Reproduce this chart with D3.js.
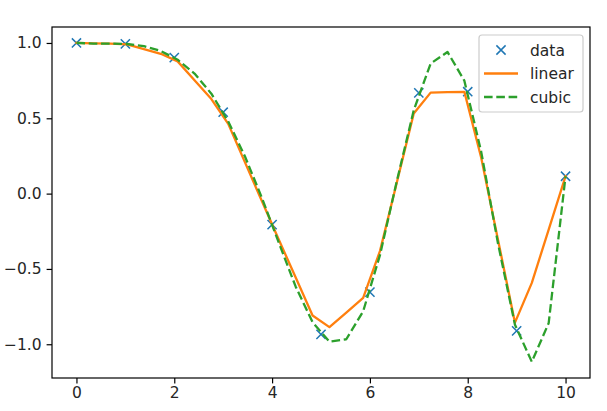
<!DOCTYPE html>
<html>
<head>
<meta charset="utf-8">
<script src="https://cdn.jsdelivr.net/npm/d3@7"></script>
<style>
  html, body { margin: 0; padding: 0; background: #fff; }
  svg { display: block; }
  text { font-family: "DejaVu Sans", sans-serif; fill: #262626; }
</style>
</head>
<body>
<script>
// ---- data ----
const xData = [0, 1, 2, 3, 4, 5, 6, 7, 8, 9, 10];
const yData = [1.0, 0.99383, 0.90285, 0.54030, -0.20551, -0.93455, -0.65364, 0.66841, 0.67641, -0.91113, 0.11528];

const xNew = [0, 0.34483, 0.68966, 1.03448, 1.37931, 1.72414, 2.06897, 2.41379, 2.75862, 3.10345,
  3.44828, 3.79310, 4.13793, 4.48276, 4.82759, 5.17241, 5.51724, 5.86207, 6.20690, 6.55172,
  6.89655, 7.24138, 7.58621, 7.93103, 8.27586, 8.62069, 8.96552, 9.31034, 9.65517, 10];

const yLinear = [1.0, 0.99787, 0.99574, 0.99069, 0.95932, 0.92795, 0.87784, 0.75283, 0.62781, 0.46315,
  0.20596, -0.05120, -0.30606, -0.55746, -0.80885, -0.88611, -0.78925, -0.69238, -0.38011, 0.07577,
  0.53164, 0.67034, 0.67310, 0.67586, 0.23848, -0.30896, -0.85639, -0.59259, -0.23866, 0.11528];

const yCubic = [1.0, 0.99605, 0.99627, 0.99315, 0.97920, 0.94692, 0.88880, 0.79708, 0.66339, 0.47937,
  0.24440, -0.02888, -0.32628, -0.61793, -0.85370, -0.98268, -0.96686, -0.78106, -0.40670, 0.08498,
  0.55358, 0.86305, 0.94039, 0.74980, 0.27725, -0.33395, -0.86991, -1.11649, -0.85949, 0.11528];

const xTicks = [0, 2, 4, 6, 8, 10];
const yTicks = [-1.0, -0.5, 0.0, 0.5, 1.0];
const legendLabels = ["data", "linear", "cubic"];

// ---- layout ----
const W = 607, H = 411;
const mLeft = 52, mRight = 590, mTop = 27, mBottom = 378;
const colors = { data: "#1f77b4", linear: "#ff7f0e", cubic: "#2ca02c" };
const fontSize = 15.5;

const svg = d3.select("body").append("svg").attr("width", W).attr("height", H);

const x = d3.scaleLinear().domain([-0.5, 10.5]).range([mLeft, mRight]);
const y = d3.scaleLinear().domain([-1.224, 1.106]).range([mBottom, mTop]);

svg.append("defs").append("clipPath").attr("id", "clip")
  .append("rect").attr("x", mLeft).attr("y", mTop).attr("width", mRight - mLeft).attr("height", mBottom - mTop);

const g = svg.append("g").attr("clip-path", "url(#clip)");

// data markers (x)
const ms = 4.6;
const xMark = (cx, cy, s) => `M${cx - s},${cy - s}L${cx + s},${cy + s}M${cx - s},${cy + s}L${cx + s},${cy - s}`;
g.append("g").selectAll("path").data(xData.map((d, i) => [d, yData[i]])).join("path")
  .attr("d", d => xMark(x(d[0]), y(d[1]), ms))
  .attr("stroke", colors.data).attr("stroke-width", 1.5).attr("fill", "none");

const line = d3.line().x(d => x(d[0])).y(d => y(d[1]));

g.append("path").datum(xNew.map((d, i) => [d, yLinear[i]]))
  .attr("d", line).attr("fill", "none").attr("stroke", colors.linear)
  .attr("stroke-width", 2.3).attr("stroke-linejoin", "round").attr("stroke-linecap", "square");

g.append("path").datum(xNew.map((d, i) => [d, yCubic[i]]))
  .attr("d", line).attr("fill", "none").attr("stroke", colors.cubic)
  .attr("stroke-width", 2.3).attr("stroke-dasharray", "8.6,3.7").attr("stroke-linejoin", "round");

// axes
const xAxis = d3.axisBottom(x).tickValues(xTicks).tickFormat(d3.format("d")).tickSize(5.4).tickPadding(4);
const yAxis = d3.axisLeft(y).tickValues(yTicks).tickFormat(d3.format(".1f")).tickSize(5.4).tickPadding(5);

const gx = svg.append("g").attr("transform", `translate(0,${mBottom})`).call(xAxis);
const gy = svg.append("g").attr("transform", `translate(${mLeft},0)`).call(yAxis);
[gx, gy].forEach(a => {
  a.select(".domain").remove();
  a.selectAll(".tick line").attr("stroke", "#000").attr("stroke-width", 1.2);
  a.selectAll(".tick text").attr("font-size", fontSize).attr("font-family", "DejaVu Sans").attr("fill", "#222");
});
gy.selectAll(".tick text").text(d => d3.format(".1f")(d).replace("-", "\u2212"));

// frame
svg.append("rect").attr("x", mLeft).attr("y", mTop).attr("width", mRight - mLeft).attr("height", mBottom - mTop)
  .attr("fill", "none").attr("stroke", "#000").attr("stroke-width", 1.2);

// legend
const lg = svg.append("g");
lg.append("rect").attr("x", 479).attr("y", 35).attr("width", 104).attr("height", 77)
  .attr("rx", 3).attr("fill", "#fff").attr("fill-opacity", 0.8).attr("stroke", "#cccccc").attr("stroke-width", 1.2);
const rows = [50, 73.5, 97];
legendLabels.forEach((lab, i) => {
  const ry = rows[i];
  if (lab === "data") {
    lg.append("path").attr("d", xMark(501, ry, ms)).attr("stroke", colors.data).attr("stroke-width", 1.5);
  } else {
    lg.append("line").attr("x1", 484).attr("x2", 518).attr("y1", ry).attr("y2", ry)
      .attr("stroke", colors[lab]).attr("stroke-width", 2.3)
      .attr("stroke-dasharray", lab === "cubic" ? "8.6,3.7" : null);
  }
  lg.append("text").attr("x", 530).attr("y", ry).attr("dy", "0.36em")
    .attr("font-size", fontSize).text(lab);
});
</script>
</body>
</html>
